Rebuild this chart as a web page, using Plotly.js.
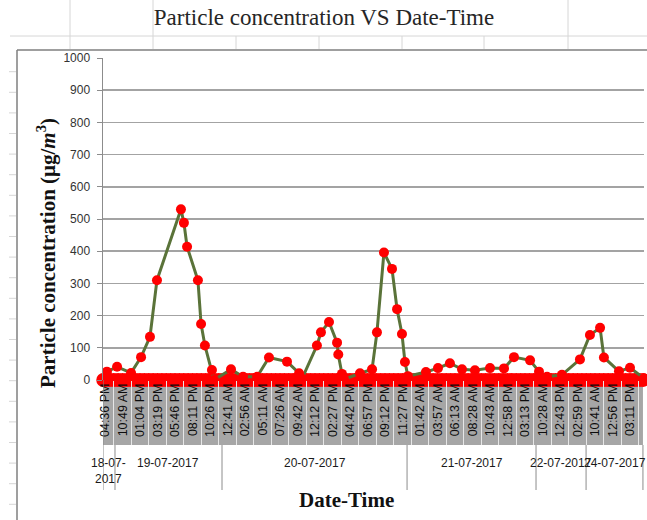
<!DOCTYPE html>
<html>
<head>
<meta charset="utf-8">
<script src="https://cdn.plot.ly/plotly-3.0.1.min.js"></script>
<style>html,body{margin:0;padding:0;background:#fff;}#chart{width:647px;height:520px;}</style>
</head>
<body>
<div id="chart"></div>
<script>
// Tick label slots (one label per slot index 0..30)
const timeLabels = ["04:36 PM","10:49 AM","01:04 PM","03:19 PM","05:46 PM","08:11 PM","10:26 PM",
  "12:41 AM","02:56 AM","05:11 AM","07:26 AM","09:42 AM","12:12 PM","02:27 PM","04:42 PM","06:57 PM",
  "09:12 PM","11:27 PM","01:42 AM","03:57 AM","06:13 AM","08:28 AM","10:43 AM","12:58 PM","03:13 PM",
  "10:28 AM","12:43 PM","02:59 PM","10:41 AM","12:56 PM","03:11 PM"];
const timeSlots = [0,1,2,3,4,5,6,7,8,9,10,11,12,13,14,15,16,17,18,19,20,21,22,23,24,25,26,27,28,29,30];

// Date groups and their boundaries (in slot units)
const dateLabels = ["18-07-2017","19-07-2017","20-07-2017","21-07-2017","22-07-2017","24-07-2017"];
const dateBounds = [-0.114, 0.571, 6.686, 17.26, 24.63, 27.49, 30.74];

// Particle concentration series (slot position, µg/m3)
const concX = [-0.1, 0.11, 0.69, 1.49, 2.06, 2.57, 2.97, 4.34, 4.51, 4.69, 5.31, 5.49, 5.71, 6.11, 6.23,
  7.2, 7.89, 8.69, 9.37, 10.4, 11.09, 11.26, 12.11, 12.34, 12.8, 13.26, 13.33, 13.54, 13.66, 14.57,
  15.26, 15.54, 15.94, 16.4, 16.69, 16.97, 17.14, 17.31, 18.34, 19.03, 19.71, 20.4, 21.14, 22.0, 22.8,
  23.37, 24.29, 24.8, 25.26, 26.11, 27.14, 27.71, 28.29, 28.51, 29.37, 30.0, 30.8];
const concY = [5, 26, 41, 22, 71, 134, 310, 530, 488, 414, 310, 174, 107, 31, 0,
  33, 10, 10, 70, 57, 21, 4, 107, 148, 180, 116, 79, 19, 2, 21,
  33, 148, 396, 345, 220, 143, 56, 12, 25, 37, 52, 33, 30, 37, 36,
  71, 61, 26, 10, 16, 64, 140, 162, 70, 27, 38, 5];

// Zero readings (dense red band) and a few small negative readings
const zeroX = [-0.1,0,0.25,0.5,0.75,1,1.25,1.5,1.75,2,2.25,2.5,2.75,3,3.25,3.5,3.75,4,4.25,4.5,4.75,
  5,5.25,5.5,5.75,6,6.25,6.5,6.75,7,7.25,7.5,7.75,8,8.25,8.5,8.75,9,9.25,9.5,9.75,
  10,10.25,10.5,10.75,11,11.25,11.5,11.75,12,12.25,12.5,12.75,13,13.25,13.5,13.75,14,14.25,14.5,14.75,
  15,15.25,15.5,15.75,16,16.25,16.5,16.75,17,17.25,17.5,17.75,18,18.25,18.5,18.75,19,19.25,19.5,19.75,
  20,20.25,20.5,20.75,21,21.25,21.5,21.75,22,22.25,22.5,22.75,23,23.25,23.5,23.75,24,24.25,24.5,24.75,
  25,25.25,25.5,25.75,26,26.25,26.5,26.75,27,27.25,27.5,27.75,28,28.25,28.5,28.75,29,29.25,29.5,29.75,
  30,30.25,30.5,30.75];
const zeroY = zeroX.map(() => 0);
const negX = [2.3, 4.0, 14.06, 19.2];
const negY = [-20, -20, -28, -45];

const RED = "#ff0000";
const traces = [
  {x: zeroX, y: zeroY, type: "scatter", mode: "markers", cliponaxis: false,
   marker: {color: RED, size: 14}, hoverinfo: "skip", showlegend: false},
  {x: negX, y: negY, type: "scatter", mode: "markers", cliponaxis: false,
   marker: {color: RED, size: 10}, showlegend: false},
  {x: concX, y: concY, type: "scatter", mode: "lines+markers", cliponaxis: false,
   line: {color: "#5a7339", width: 3},
   marker: {color: RED, size: 10}, showlegend: false}
];

// geometry helpers for paper-referenced decoration
const PL = 103, PR = 644, PT = 58, PB = 380;
const px = v => (v - PL) / (PR - PL);
const py = v => (PB - v) / (PB - PT);

const shapes = [];
// gray band behind the tick labels
shapes.push({type: "rect", xref: "x", yref: "paper", x0: dateBounds[0], x1: dateBounds[dateBounds.length-1],
  y0: py(385), y1: py(445), fillcolor: "#a6a6a6", line: {width: 0}, layer: "below"});
// date group dividers
dateBounds.forEach((b, i) => {
  shapes.push({type: "line", xref: "x", yref: "paper", x0: b, x1: b,
    y0: py(i === 0 ? 380 : 445), y1: py(490), line: {color: "#8c8c8c", width: 1}});
});
// chart frame (left + top)
shapes.push({type: "line", xref: "paper", yref: "paper", x0: px(17), x1: px(17), y0: py(50), y1: py(521),
  line: {color: "#7f7f7f", width: 1.5}});
shapes.push({type: "line", xref: "paper", yref: "paper", x0: px(17), x1: px(648), y0: py(50), y1: py(50),
  line: {color: "#7f7f7f", width: 1.5}});
// spreadsheet cell lines around the chart
const cell = "#d6d6d6";
shapes.push({type: "line", xref: "paper", yref: "paper", x0: px(10), x1: px(648), y0: py(36), y1: py(36),
  line: {color: cell, width: 1}});
[70,153,236,319,402,484,568].forEach(v => {
  shapes.push({type: "line", xref: "paper", yref: "paper", x0: px(v), x1: px(v), y0: py(36), y1: py(49),
    line: {color: cell, width: 1}});
});
[70,153,568].forEach(v => {
  shapes.push({type: "line", xref: "paper", yref: "paper", x0: px(v), x1: px(v), y0: py(0), y1: py(36),
    line: {color: cell, width: 1}});
});
for (let r = 71.7; r < 520; r += 20.6) {
  shapes.push({type: "line", xref: "paper", yref: "paper", x0: px(9), x1: px(16), y0: py(r), y1: py(r),
    line: {color: cell, width: 1}});
}

const annotations = [];
dateLabels.forEach((d, i) => {
  const a = dateBounds[i], b = dateBounds[i+1];
  const narrow = (b - a) < 2;
  annotations.push({xref: "x", yref: "paper", x: (a + b) / 2, y: py(454), yanchor: "top", xanchor: "center",
    text: narrow ? d.replace(/-(\d{4})$/, "-<br>$1") : d, showarrow: false,
    font: {family: "Liberation Sans, Arial, sans-serif", size: 12, color: "#1a1a1a"}});
});
annotations.push({xref: "paper", yref: "paper", x: px(46), y: py(253), xanchor: "center", yanchor: "middle",
  textangle: -90, showarrow: false,
  text: "<b>Particle concentration (μg/<i>m</i><sup>3</sup>)</b>",
  font: {family: "Liberation Serif, Times New Roman, serif", size: 21, color: "#111"}});
annotations.push({xref: "paper", yref: "paper", x: px(346), y: py(500), xanchor: "center", yanchor: "middle",
  showarrow: false, text: "<b>Date-Time</b>",
  font: {family: "Liberation Serif, Times New Roman, serif", size: 21, color: "#111"}});

const layout = {
  width: 647, height: 520,
  margin: {l: PL, r: 647 - PR, t: PT, b: 520 - PB, pad: 0},
  paper_bgcolor: "#ffffff", plot_bgcolor: "#ffffff",
  title: {text: "Particle concentration VS Date-Time", xref: "container", yref: "container",
    x: 324/647, y: 1 - 17/520, xanchor: "center", yanchor: "middle",
    font: {family: "Liberation Serif, Times New Roman, serif", size: 23, color: "#262626"}},
  xaxis: {range: [-0.114, 30.8], tickmode: "array", tickvals: timeSlots, ticktext: timeLabels,
    tickangle: -90, ticks: "", showgrid: false, zeroline: false, showline: false,
    minor: {ticks: "outside", ticklen: 64, tickwidth: 1, tickcolor: "#e6e6e6", tickmode: "linear",
      tick0: 0.5, dtick: 1, showgrid: false},
    tickfont: {family: "Liberation Sans, Arial, sans-serif", size: 12.5, color: "#0d0d0d"}},
  yaxis: {range: [0, 1000], dtick: 100, tick0: 0, showgrid: true, gridcolor: "#a3a3a3", gridwidth: 1.5,
    zeroline: false, showline: true, linecolor: "#8c8c8c", linewidth: 1.5,
    ticks: "outside", ticklen: 5, tickcolor: "#8c8c8c", ticklabelstandoff: 4,
    tickfont: {family: "Liberation Sans, Arial, sans-serif", size: 12, color: "#333"}},
  shapes: shapes,
  annotations: annotations,
  showlegend: false
};

Plotly.newPlot("chart", traces, layout, {displayModeBar: false, staticPlot: true});
</script>
</body>
</html>
